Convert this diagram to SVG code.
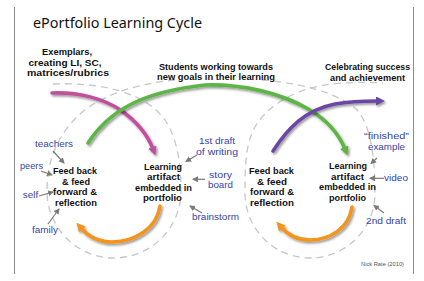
<svg xmlns="http://www.w3.org/2000/svg" width="424" height="281" viewBox="0 0 424 281">
<style>
.k{font-family:"Liberation Sans",Arial,sans-serif;font-weight:bold;font-size:9.3px;fill:#111;text-anchor:middle}
.b{font-family:"Liberation Sans",Arial,sans-serif;font-size:9.3px;fill:#3444a8;text-anchor:middle}
.dash{fill:none;stroke:#c6c6c6;stroke-width:1.3;stroke-dasharray:7 5}
.ptr{fill:none;stroke:#7a7a7a;stroke-width:1.2;marker-end:url(#mg)}
.arr{fill:none;stroke-width:3.6;stroke-linecap:round;filter:url(#sh)}
</style>
<defs>
<filter id="sh" x="-20%" y="-20%" width="140%" height="140%">
<feDropShadow dx="1.5" dy="1.8" stdDeviation="1" flood-color="#000" flood-opacity="0.4"/>
</filter>
<marker id="mg" markerUnits="userSpaceOnUse" markerWidth="8" markerHeight="8" refX="5" refY="3" orient="auto"><path d="M0,0 L6,3 L0,6 z" fill="#7a7a7a"/></marker>
<marker id="mp" markerUnits="userSpaceOnUse" markerWidth="12" markerHeight="12" refX="2" refY="4.5" orient="auto"><path d="M0,0 L9,4.5 L0,9 z" fill="#c1509c"/></marker>
<marker id="mgr" markerUnits="userSpaceOnUse" markerWidth="12" markerHeight="12" refX="2" refY="4.5" orient="auto"><path d="M0,0 L9,4.5 L0,9 z" fill="#5db544"/></marker>
<marker id="mpu" markerUnits="userSpaceOnUse" markerWidth="12" markerHeight="12" refX="2" refY="4.5" orient="auto"><path d="M0,0 L9,4.5 L0,9 z" fill="#6b46a6"/></marker>
<marker id="mo" markerUnits="userSpaceOnUse" markerWidth="12" markerHeight="12" refX="2" refY="4.5" orient="auto"><path d="M0,0 L9,4.5 L0,9 z" fill="#f3941f"/></marker>
</defs>
<rect width="424" height="281" fill="#fff"/>
<line x1="14.5" y1="7" x2="14.5" y2="274" stroke="#8c8c8c" stroke-width="1"/>
<line x1="413.5" y1="7" x2="413.5" y2="274" stroke="#8c8c8c" stroke-width="1"/>
<text x="33" y="28" font-family="Noto Sans,DejaVu Sans,sans-serif" font-size="14" fill="#111" textLength="169" lengthAdjust="spacingAndGlyphs">ePortfolio Learning Cycle</text>

<g id="connectors">
<path class="dash" d="M53,84 C100,82 145,92 165,120 C177,138 181,163 181,191 A67,67 0 0 1 47,191 C47,160 58,134 80,114 C102,95 135,84 175,80"/>
<path class="dash" d="M262,80 C300,83 335,92 355,108 C371,122 375,160 375,193 A65,65 0 0 1 245,193 C245,160 246,140 258,122 C275,100 300,88 332,84 C352,82 368,82 383,83"/>
<path class="arr" stroke="#c1509c" marker-end="url(#mp)" d="M52,93 C80,92 105,99 122,111 C137,122 148,136 153,149"/>
<path class="arr" stroke="#5db544" marker-end="url(#mgr)" d="M88,143 C108,112 140,92 205,85 C240,84 280,92 310,110 C330,122 340,137 345,149"/>
<path class="arr" stroke="#6b46a6" marker-end="url(#mpu)" d="M273,151 C288,128 305,110 335,104 C352,101 366,101 378,101"/>
<path class="arr" stroke="#f3941f" marker-end="url(#mo)" d="M160,206 C157,228 135,242 112,242 C98,242 88,236 81,228"/>
<path class="arr" stroke="#f3941f" marker-end="url(#mo)" d="M352,207 C349,228 330,240 310,240 C297,240 288,235 281,227"/>
<path class="ptr" d="M53,151 L64,163"/>
<path class="ptr" d="M41,171 L52,175"/>
<path class="ptr" d="M39,196 L53,192"/>
<path class="ptr" d="M48,224 L59,209"/>
<path class="ptr" d="M197,155 L186,161.5"/>
<path class="ptr" d="M205,179.3 L193,179.3"/>
<path class="ptr" d="M202,213 L190,206"/>
<path class="ptr" d="M377,158 L371,163.5"/>
<path class="ptr" d="M384,178.3 L370,178.3"/>
<path class="ptr" d="M384,213 L374,205.5"/>
</g>

<g id="node-exemplars">
<text class="k" x="67" y="55" textLength="50" lengthAdjust="spacingAndGlyphs">Exemplars,</text>
<text class="k" x="65" y="65.5" textLength="73" lengthAdjust="spacingAndGlyphs">creating LI, SC,</text>
<text class="k" x="68" y="76" textLength="82" lengthAdjust="spacingAndGlyphs">matrices/rubrics</text>
</g>
<g id="node-students">
<text class="k" x="216" y="69.7" textLength="114" lengthAdjust="spacingAndGlyphs">Students working towards</text>
<text class="k" x="216" y="80.2" textLength="118" lengthAdjust="spacingAndGlyphs">new goals in their learning</text>
</g>
<g id="node-celebrating">
<text class="k" x="367.5" y="70" textLength="85" lengthAdjust="spacingAndGlyphs">Celebrating success</text>
<text class="k" x="367.5" y="80.5" textLength="75" lengthAdjust="spacingAndGlyphs">and achievement</text>
</g>
<g id="node-feedback-1">
<text class="k" x="75" y="174" textLength="44" lengthAdjust="spacingAndGlyphs">Feed back</text>
<text class="k" x="76" y="184.5" textLength="28" lengthAdjust="spacingAndGlyphs">&amp; feed</text>
<text class="k" x="75" y="195" textLength="44" lengthAdjust="spacingAndGlyphs">forward &amp;</text>
<text class="k" x="76" y="205.5" textLength="42" lengthAdjust="spacingAndGlyphs">reflection</text>
</g>
<g id="node-artifact-1">
<text class="k" x="163" y="169.5" textLength="38" lengthAdjust="spacingAndGlyphs">Learning</text>
<text class="k" x="163.5" y="180" textLength="33" lengthAdjust="spacingAndGlyphs">artifact</text>
<text class="k" x="163.5" y="190.5" textLength="57" lengthAdjust="spacingAndGlyphs">embedded in</text>
<text class="k" x="162.5" y="201" textLength="39" lengthAdjust="spacingAndGlyphs">portfolio</text>
</g>
<g id="node-feedback-2">
<text class="k" x="271.5" y="174" textLength="45" lengthAdjust="spacingAndGlyphs">Feed back</text>
<text class="k" x="272" y="184.5" textLength="30" lengthAdjust="spacingAndGlyphs">&amp; feed</text>
<text class="k" x="272" y="195" textLength="44" lengthAdjust="spacingAndGlyphs">forward &amp;</text>
<text class="k" x="272" y="205.5" textLength="44" lengthAdjust="spacingAndGlyphs">reflection</text>
</g>
<g id="node-artifact-2">
<text class="k" x="348" y="169" textLength="38" lengthAdjust="spacingAndGlyphs">Learning</text>
<text class="k" x="347.5" y="179.5" textLength="33" lengthAdjust="spacingAndGlyphs">artifact</text>
<text class="k" x="347.5" y="190" textLength="57" lengthAdjust="spacingAndGlyphs">embedded in</text>
<text class="k" x="347.5" y="200.5" textLength="37" lengthAdjust="spacingAndGlyphs">portfolio</text>
</g>
<g id="node-teachers"><text class="b" x="54" y="147" textLength="38" lengthAdjust="spacingAndGlyphs">teachers</text></g>
<g id="node-peers"><text class="b" x="31.5" y="169" textLength="23" lengthAdjust="spacingAndGlyphs">peers</text></g>
<g id="node-self"><text class="b" x="30.5" y="198" textLength="15.5" lengthAdjust="spacingAndGlyphs">self</text></g>
<g id="node-family"><text class="b" x="45" y="232.5" textLength="26" lengthAdjust="spacingAndGlyphs">family</text></g>
<g id="node-first-draft">
<text class="b" x="217" y="144" textLength="36" lengthAdjust="spacingAndGlyphs">1st draft</text>
<text class="b" x="217" y="154.5" textLength="42" lengthAdjust="spacingAndGlyphs">of writing</text>
</g>
<g id="node-storyboard">
<text class="b" x="220.5" y="177.5" textLength="23" lengthAdjust="spacingAndGlyphs">story</text>
<text class="b" x="220.5" y="188" textLength="25" lengthAdjust="spacingAndGlyphs">board</text>
</g>
<g id="node-brainstorm"><text class="b" x="215.5" y="220" textLength="47" lengthAdjust="spacingAndGlyphs">brainstorm</text></g>
<g id="node-finished">
<text class="b" x="386.5" y="139" textLength="45" lengthAdjust="spacingAndGlyphs">“finished”</text>
<text class="b" x="386.5" y="149.5" textLength="37" lengthAdjust="spacingAndGlyphs">example</text>
</g>
<g id="node-video"><text class="b" x="396" y="181" textLength="24" lengthAdjust="spacingAndGlyphs">video</text></g>
<g id="node-second-draft"><text class="b" x="386" y="224.3" textLength="40" lengthAdjust="spacingAndGlyphs">2nd draft</text></g>
<text x="361" y="266" font-family="Liberation Sans,Arial,sans-serif" font-size="6" fill="#555" textLength="43" lengthAdjust="spacingAndGlyphs">Nick Rate (2010)</text>
</svg>
